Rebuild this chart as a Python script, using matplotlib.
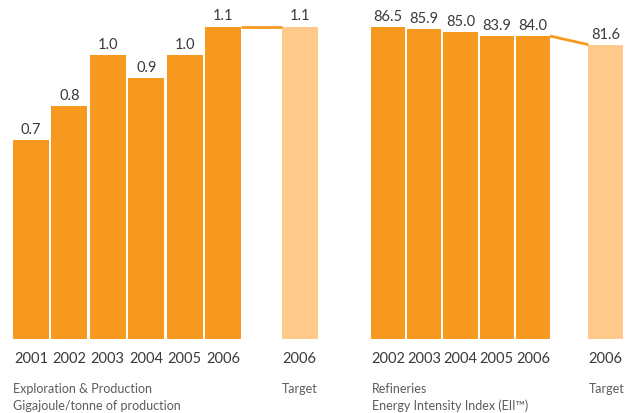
import matplotlib.pyplot as plt

# Exploration & Production, gigajoule/tonne of production
ep_years = ['2001', '2002', '2003', '2004', '2005', '2006']
ep_values = [0.70, 0.82, 1.00, 0.92, 1.00, 1.10]
ep_labels = ['0.7', '0.8', '1.0', '0.9', '1.0', '1.1']
ep_target = 1.10
ep_target_label = '1.1'

# Refineries, Energy Intensity Index
ref_years = ['2002', '2003', '2004', '2005', '2006']
ref_values = [86.5, 85.9, 85.0, 83.9, 84.0]
ref_target = 81.6

target_year = '2006'

ORANGE = '#F7981F'
LIGHT = '#FEC98B'
DARK = '#3a3a3a'
GREY = '#5c5c5c'

plt.rcParams['font.family'] = ['Lato', 'DejaVu Sans']

W, H = 633, 414
fig = plt.figure(figsize=(W / 100, H / 100), dpi=100)


def px_axes(x0, x1, y_bottom):
    # axes spanning pixel columns x0..x1, from top of figure down to y_bottom
    return fig.add_axes([x0 / W, (H - y_bottom) / H, (x1 - x0) / W, y_bottom / H])


def panel(ax, years, values, labels, target, target_label, gap):
    n = len(years)
    pos = list(range(n))
    tpos = n - 1 + gap
    ax.bar(pos, values, width=0.94, color=ORANGE, linewidth=0)
    ax.bar([tpos], [target], width=0.94, color=LIGHT, linewidth=0)
    # connector from last actual bar to the target
    ax.plot([n - 1 + 0.47, tpos - 0.47], [values[-1], target], color=ORANGE,
            lw=2, solid_capstyle='butt', zorder=1)
    for p, v, t in zip(pos + [tpos], values + [target], labels + [target_label]):
        ax.annotate(t, (p, v), xytext=(0, 3), textcoords='offset points',
                    ha='center', va='bottom', fontsize=10.5, color=DARK)
    ax.set_xticks(pos + [tpos])
    ax.set_xticklabels(years + [target_year], fontsize=10.5, color=DARK)
    ax.tick_params(axis='x', length=0, pad=9)
    ax.set_yticks([])
    for s in ax.spines.values():
        s.set_visible(False)


# left panel
ax1 = px_axes(0, 320, 340)
panel(ax1, ep_years, ep_values, ep_labels, ep_target, ep_target_label, 2)
ax1.set_xlim(-31 / 38.4, (320 - 31) / 38.4)
ax1.set_ylim(0, 340 / 284)

# right panel
ax2 = px_axes(320, 633, 340)
panel(ax2, ref_years, ref_values, ['%.1f' % v for v in ref_values],
      ref_target, '%.1f' % ref_target, 2)
ax2.set_xlim((320 - 388) / 36.25, (633 - 388) / 36.25)
ax2.set_ylim(0, 340 / 3.607)

cap = dict(fontsize=9, color=GREY, va='center', ha='left')
fig.text(13 / W, 1 - 389 / H, 'Exploration & Production', **cap)
fig.text(13 / W, 1 - 406 / H, 'Gigajoule/tonne of production', **cap)
fig.text(282 / W, 1 - 389 / H, 'Target', **cap)
fig.text(372 / W, 1 - 389 / H, 'Refineries', **cap)
fig.text(372 / W, 1 - 406 / H, 'Energy Intensity Index (EII\u2122)', **cap)
fig.text(589 / W, 1 - 389 / H, 'Target', **cap)

fig.savefig('out.png', dpi=100)
